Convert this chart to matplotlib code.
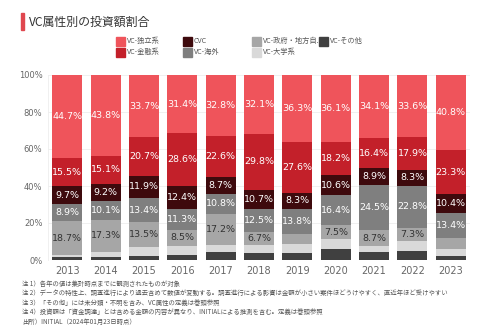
import matplotlib
matplotlib.use("Agg")
import matplotlib.pyplot as plt
from matplotlib.patches import Rectangle
import numpy as np

plt.rcParams['font.family'] = ['Noto Sans CJK JP', 'DejaVu Sans']

years = ["2013", "2014", "2015", "2016", "2017", "2018", "2019", "2020", "2021", "2022", "2023"]
# stacked bottom -> top
series_names = ["VC-その他", "VC-大学系", "VC-政府・地方自治体", "VC-海外", "CVC", "VC-金融系", "VC-独立系"]
vc_other = [1.5, 1.4, 2.3, 2.8, 4.1, 3.6, 4.0, 5.7, 4.2, 4.8, 2.0]
vc_univ = [1.0, 3.1, 4.5, 5.0, 3.8, 4.6, 4.5, 5.5, 3.2, 5.3, 3.8]
vc_gov = [18.7, 17.3, 13.5, 8.5, 17.2, 6.7, 5.5, 7.5, 8.7, 7.3, 6.3]
vc_foreign = [8.9, 10.1, 13.4, 11.3, 10.8, 12.5, 13.8, 16.4, 24.5, 22.8, 13.4]
cvc = [9.7, 9.2, 11.9, 12.4, 8.7, 10.7, 8.3, 10.6, 8.9, 8.3, 10.4]
vc_fin = [15.5, 15.1, 20.7, 28.6, 22.6, 29.8, 27.6, 18.2, 16.4, 17.9, 23.3]
vc_indep = [44.7, 43.8, 33.7, 31.4, 32.8, 32.1, 36.3, 36.1, 34.1, 33.6, 40.8]

series = [vc_other, vc_univ, vc_gov, vc_foreign, cvc, vc_fin, vc_indep]
colors = ["#404040", "#d9d9d9", "#a6a6a6", "#7f7f7f", "#3e0a0d", "#c3202a", "#ef545b"]
label_colors = [None, None, "#333333", "white", "white", "white", "white"]

legend_order = ["VC-独立系", "VC-金融系", "CVC", "VC-海外", "VC-政府・地方自...", "VC-大学系", "VC-その他"]
legend_colors = ["#ef545b", "#c3202a", "#3e0a0d", "#7f7f7f", "#a6a6a6", "#d9d9d9", "#404040"]

notes = [
    "注 1）各年の値は集計時点までに観測されたものが対象",
    "注 2）データの特性上、調査進行により過去含めて数値が変動する。調査進行による影響は金額が小さい案件ほどうけやすく、直近年ほど受けやすい",
    "注 3）「その他」には未分類・不明を含み、VC属性の定義は巻頭参照",
    "注 4）投資額は「資金調達」とは含める金額の内容が異なり、INITIALによる推測を含む。定義は巻頭参照",
    "出所）INITIAL（2024年01月23日時点）",
]

W, H = 480, 331
fig = plt.figure(figsize=(W / 100, H / 100), dpi=100)
fig.patch.set_facecolor("white")

ax = fig.add_axes([48 / W, 1 - 260 / H, (470 - 48) / W, (260 - 75) / H])
x = np.arange(len(years))
bottom = np.zeros(len(years))
for vals, col, lc in zip(series, colors, label_colors):
    vals = np.array(vals)
    ax.bar(x, vals, bottom=bottom, width=0.78, color=col, edgecolor="none", zorder=2)
    if lc is not None:
        for xi, (b, v) in enumerate(zip(bottom, vals)):
            if v >= 6.5:
                ax.text(xi, b + v / 2, f"{v:.1f}%", ha="center", va="center",
                        color=lc, fontsize=6.8, family=['DejaVu Sans'], zorder=3)
    bottom += vals

ax.set_xlim(-0.5, len(years) - 0.5)
ax.set_ylim(0, 100)
ax.set_yticks([0, 20, 40, 60, 80, 100])
ax.set_yticklabels(["0%", "20%", "40%", "60%", "80%", "100%"])
ax.set_xticks(x)
ax.set_xticklabels(years)
ax.tick_params(axis="both", length=0, labelcolor="#666666")
ax.tick_params(axis="y", labelsize=6, pad=4)
ax.tick_params(axis="x", labelsize=7, pad=4)
for lab in ax.get_xticklabels() + ax.get_yticklabels():
    lab.set_family(['DejaVu Sans'])
ax.grid(axis="y", color="#eeeeee", linewidth=0.6, zorder=0)
for s in ["top", "right", "bottom"]:
    ax.spines[s].set_visible(False)
ax.spines["left"].set_color("#eeeeee")
ax.spines["left"].set_linewidth(0.6)

# title
fig.patches.append(Rectangle((21 / W, 1 - 30 / H), 3 / W, 17 / H, transform=fig.transFigure,
                             color="#e0474f", zorder=5))
fig.text(29 / W, 1 - 22 / H, "VC属性別の投資額割合", fontsize=8.6, va="center", ha="left",
         color="#333333")

# legend
lx = [116, 116, 183, 183, 252, 252, 319]
ly = [41, 52, 41, 52, 41, 52, 41]
for name, col, px, py in zip(legend_order, legend_colors, lx, ly):
    fig.patches.append(Rectangle((px / W, 1 - (py + 4.5) / H), 9 / W, 9 / H,
                                 transform=fig.transFigure, color=col, zorder=5))
    fig.text((px + 11) / W, 1 - py / H, name, fontsize=5.2, va="center", ha="left",
             color="#555555")

# notes
for i, n in enumerate(notes):
    fig.text(22 / W, 1 - (284 + i * 9.4) / H, n, fontsize=4.6, va="center", ha="left",
             color="#555555")

fig.savefig("out.png", dpi=100, facecolor="white")
